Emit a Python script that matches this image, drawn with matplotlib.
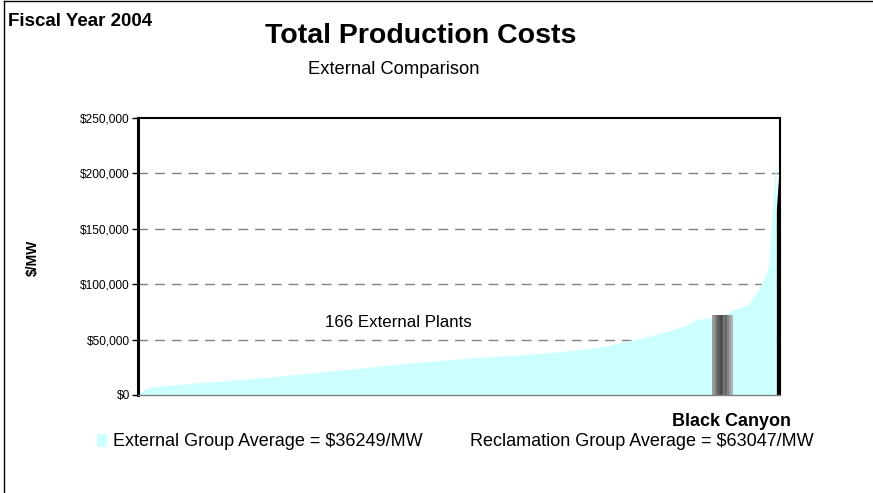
import numpy as np
import matplotlib
matplotlib.use('Agg')
import matplotlib.pyplot as plt
from matplotlib.patches import Rectangle
from matplotlib.lines import Line2D
import matplotlib.ticker as ticker

plt.rcParams['font.family'] = ['Liberation Sans', 'DejaVu Sans']

# ---- Data: 166 external plants, sorted ascending ($/MW) ----
external_costs = [
    1500, 3500, 5500, 6800, 7400, 7800, 8200, 8500, 8800, 9100,
    9400, 9700, 10000, 10300, 10600, 11000, 11200, 11400, 11700, 11900,
    12200, 12500, 12800, 13100, 13500, 13700, 13900, 14200, 14400, 14700,
    15000, 15300, 15600, 15900, 16200, 16500, 16900, 17300, 17700, 18100,
    18400, 18700, 19000, 19300, 19700, 20000, 20400, 20700, 21100, 21500,
    21800, 22100, 22500, 22800, 23100, 23500, 23800, 24100, 24500, 24800,
    25200, 25500, 25900, 26200, 26600, 27000, 27400, 27700, 28100, 28400,
    28800, 29100, 29400, 29700, 30000, 30300, 30600, 30900, 31100, 31400,
    31700, 32000, 32200, 32500, 32800, 33000, 33300, 33600, 33900, 34200,
    34400, 34600, 34800, 35000, 35200, 35400, 35600, 35800, 35900, 36100,
    36400, 36700, 37000, 37300, 37600, 37900, 38200, 38500, 38800, 39100,
    39500, 39900, 40200, 40600, 41000, 41400, 41800, 42200, 42700, 43300,
    43800, 44200, 45000, 45800, 46600, 47400, 48200, 49000, 49800, 50500,
    51100, 52000, 52900, 53900, 54800, 55700, 56700, 57700, 58700, 60000,
    61000, 62000, 63200, 65500, 67700, 68200, 68800, 69300, 69700, 70100,
    71000, 72000, 73500, 75000, 77000, 78500, 79000, 80000, 83000, 88000,
    93000, 99000, 107000, 115000, 165000, 215000,
]
plant_label = 'Black Canyon'
plant_rank = 151          # position of Black Canyon within the sorted group
plant_cost = 72000
external_avg = 36249
reclamation_avg = 63047
yticks = [0, 50000, 100000, 150000, 200000, 250000]

vals = np.array(external_costs, dtype=float)
x = np.arange(len(vals))

fig = plt.figure(figsize=(8.73, 4.93), dpi=100)
ax = fig.add_axes([138/873, 98/493, 642/873, 277/493])

# dashed gridlines sit behind the area
for v in yticks[1:-1]:
    ax.axhline(v, color='#808080', lw=1.0, ls=(0, (7, 5)), zorder=1)

# shadow of the right edge, then the area itself
ax.fill_between(x[-2:] + 1.0, 0, vals[-2:], color='black', lw=0, zorder=2)
ax.fill_between(x, 0, vals, color='#CCFFFF', lw=0, zorder=3)

# Black Canyon bar, gray gradient
bw = 5.2
grad = np.array([[0.62, 0.55, 0.42, 0.35, 0.30, 0.33, 0.45, 0.40, 0.52, 0.62, 0.70]])
ax.imshow(grad, cmap='gray', vmin=0, vmax=1, aspect='auto', interpolation='nearest',
          extent=[plant_rank - bw/2, plant_rank + bw/2, 0, plant_cost], zorder=4)

ax.set_xlim(0, len(vals))
ax.set_ylim(0, 250000)
ax.set_xticks([])
ax.set_yticks(yticks)
ax.yaxis.set_major_formatter(ticker.FuncFormatter(lambda v, p: f'${v:,.0f}'))
ax.tick_params(axis='y', length=4, width=1, pad=2, labelsize=8.6)

ax.spines['left'].set_linewidth(2.2)
ax.spines['top'].set_linewidth(1.5)
ax.spines['right'].set_linewidth(1.5)
ax.spines['bottom'].set_color('#808080')
ax.spines['bottom'].set_linewidth(1.0)
for s in ax.spines.values():
    s.set_zorder(6)

ax.text(0.405, 0.262, '166 External Plants', transform=ax.transAxes,
        ha='center', va='center', fontsize=12.2)

# titles and labels
fig.text(8/873, 1 - 22/493, 'Fiscal Year 2004', fontsize=13.5, fontweight='bold',
         ha='left', va='center')
fig.text(421/873, 1 - 36/493, 'Total Production Costs', fontsize=20.5,
         fontweight='bold', ha='center', va='center')
fig.text(394/873, 1 - 69/493, 'External Comparison', fontsize=13.2,
         ha='center', va='center')
fig.text(33/873, 1 - 258/493, '$/MW', fontsize=10, fontweight='bold',
         rotation=90, ha='center', va='center')
fig.text(731/873, 1 - 421/493, plant_label, fontsize=13, fontweight='bold',
         ha='center', va='center')

# legend row
fig.patches.append(Rectangle((97/873, 1 - 447/493), 10/873, 13/493,
                             transform=fig.transFigure, color='#CCFFFF', lw=0))
fig.text(113/873, 1 - 441/493, f'External Group Average = ${external_avg}/MW',
         fontsize=13, ha='left', va='center')
fig.text(470/873, 1 - 441/493, f'Reclamation Group Average = ${reclamation_avg}/MW',
         fontsize=13, ha='left', va='center')

# outer border (top and left)
fig.lines.append(Line2D([4/873, 4/873], [0, 1 - 1/493], transform=fig.transFigure,
                        color='black', lw=1))
fig.lines.append(Line2D([4/873, 1], [1 - 1/493, 1 - 1/493], transform=fig.transFigure,
                        color='black', lw=1))

fig.savefig('out.png', dpi=100)
